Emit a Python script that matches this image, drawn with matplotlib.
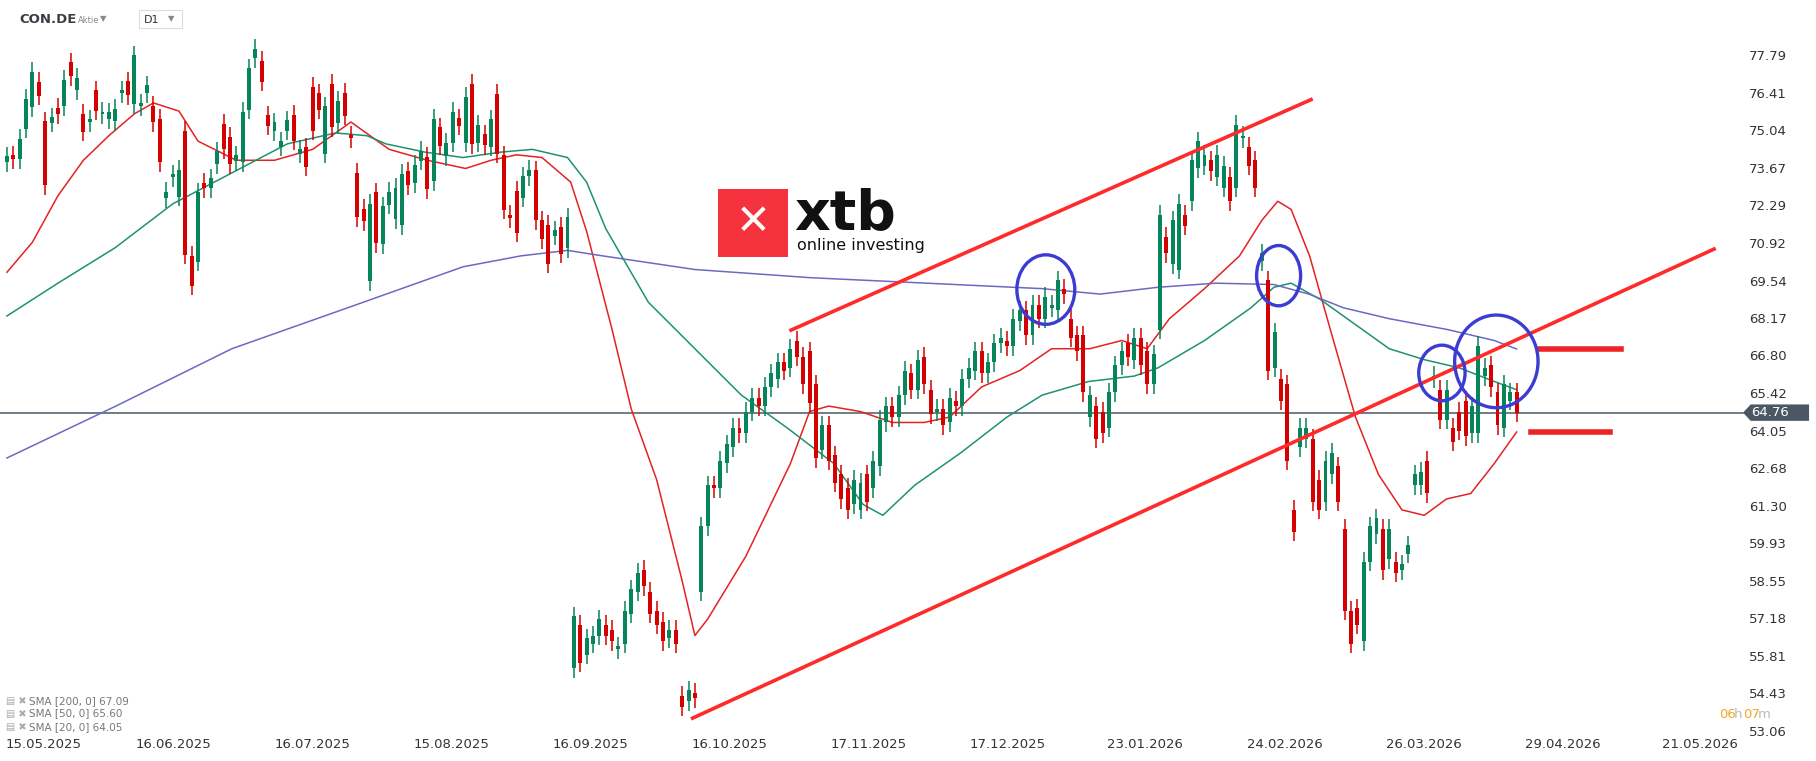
import matplotlib
matplotlib.use("Agg")
import matplotlib.pyplot as plt
from matplotlib.patches import Ellipse, Rectangle, Polygon
import numpy as np

# candles (open, close)
candles = [
    (73.93, 74.14), (74.19, 74.03), (74.03, 74.78), (75.16, 76.26), (75.95, 77.25), (76.87, 76.36),
    (75.42, 73.08), (75.37, 75.58), (75.93, 75.68), (75.98, 76.94), (77.58, 77.08), (76.56, 77.03),
    (75.71, 75.05), (75.40, 75.50), (76.56, 75.81), (75.68, 75.78), (75.50, 75.75), (75.44, 75.88),
    (76.45, 76.56), (76.90, 76.38), (76.05, 77.85), (75.98, 76.09), (76.45, 76.74), (76.00, 75.40),
    (75.52, 73.93), (72.62, 72.84), (73.37, 73.48), (72.66, 73.65), (75.09, 70.54), (70.51, 69.41),
    (70.28, 72.83), (73.18, 72.97), (72.97, 73.34), (73.86, 74.33), (75.33, 74.41), (74.86, 73.86),
    (73.96, 74.19), (73.93, 75.77), (75.85, 77.37), (77.73, 78.09), (77.65, 76.87), (75.64, 75.26),
    (75.06, 75.39), (74.50, 74.69), (75.09, 75.46), (75.67, 74.71), (74.24, 74.41), (74.48, 73.77),
    (76.69, 75.09), (76.45, 75.85), (74.24, 75.98), (76.81, 75.20), (75.35, 76.18), (76.48, 75.63),
    (74.92, 74.81), (73.55, 71.91), (72.22, 71.77), (69.58, 72.41), (72.83, 70.96), (70.93, 72.32),
    (72.38, 72.84), (71.84, 73.00), (71.63, 73.51), (73.59, 73.08), (73.17, 73.83), (73.99, 74.35),
    (74.12, 72.94), (73.23, 75.51), (75.20, 74.53), (74.14, 74.64), (74.64, 75.77), (75.54, 75.26),
    (74.64, 76.33), (76.81, 74.58), (74.64, 75.29), (74.95, 74.55), (74.50, 75.50), (76.43, 74.24),
    (74.18, 72.19), (72.00, 71.87), (72.89, 71.34), (72.63, 73.41), (73.42, 73.65), (73.63, 71.81),
    (71.81, 71.10), (71.64, 70.21), (71.23, 71.43), (71.56, 70.58), (70.78, 71.92),
    # after the gap
    (55.4, 57.3), (57.0, 55.6), (55.9, 56.5), (56.3, 56.6), (56.6, 57.2), (57.0, 56.6), (56.8, 56.4),
    (56.1, 56.2), (56.3, 57.5), (57.4, 58.3), (58.2, 58.9), (59.0, 58.4), (58.2, 57.4), (57.5, 57.0),
    (57.1, 56.4), (56.5, 56.8), (56.8, 56.3), (54.4, 54.0), (54.2, 54.6), (54.5, 54.3),
    (58.2, 60.6), (60.6, 62.1), (62.1, 62.0), (62.0, 63.0), (62.9, 63.6), (63.5, 64.2), (64.2, 64.0),
    (64.0, 64.8), (64.8, 65.3), (65.3, 65.0), (65.0, 65.7), (65.7, 66.2), (66.0, 66.6), (66.6, 66.3),
    (66.4, 67.1),
    (67.4, 66.8), (66.8, 65.8), (67.0, 65.1), (65.8, 63.1), (63.4, 64.3), (64.3, 63.0), (63.2, 62.2),
    (62.5, 61.6), (62.0, 61.2), (61.4, 62.3), (61.2, 62.2), (62.5, 61.5), (62.0, 63.0), (62.8, 64.5),
    (64.4, 65.0),
    (65.0, 64.6), (64.6, 65.4), (65.4, 66.3), (66.2, 65.6), (65.6, 66.7), (66.8, 65.8), (65.6, 64.7),
    (64.8, 64.9), (64.9, 64.3), (64.4, 65.3), (65.2, 65.0), (65.0, 66.0), (66.0, 66.4), (66.3, 67.0),
    (67.0, 66.2), (66.2, 66.6), (66.6, 67.3), (67.3, 67.5), (67.4, 67.2), (67.2, 68.2), (68.1, 68.5),
    (68.5, 67.6), (67.6, 68.7), (68.7, 68.2), (68.2, 69.0), (68.6, 68.7), (68.5, 69.6), (69.3, 69.1),
    (68.2, 67.5), (67.6, 67.0), (67.6, 65.5), (64.6, 65.4), (65.0, 63.8), (64.8, 64.0), (64.2, 65.5),
    (65.5, 66.5), (66.5, 67.0), (67.3, 66.8), (66.7, 67.5), (67.5, 66.5), (67.0, 65.8), (65.8, 66.9),
    (67.8, 72.0),
    (71.2, 70.6), (70.2, 71.8), (70.0, 72.4), (72.0, 71.6), (72.5, 74.0), (73.7, 74.7), (73.8, 74.2),
    (74.0, 73.6), (73.4, 74.2), (73.0, 73.8), (73.4, 72.5), (73.0, 75.3), (74.8, 74.9), (74.5, 73.8),
    (74.0, 73.0),
    (70.3, 70.6), (69.6, 66.3), (66.4, 67.7), (66.0, 65.2), (65.8, 63.0), (61.2, 60.4), (63.5, 64.2),
    (63.8, 64.2), (63.8, 61.5), (62.3, 61.2), (61.5, 63.0), (62.5, 63.3), (62.8, 61.5), (60.5, 57.5),
    (57.5, 56.3), (57.6, 57.0), (56.4, 59.3), (59.3, 60.6), (60.3, 60.9), (60.5, 59.0), (59.4, 60.5),
    (59.3, 58.9), (59.0, 59.2), (59.6, 59.9),
    (62.1, 62.5), (62.1, 62.6), (63.0, 61.8), (66.0, 66.1), (65.6, 64.5), (64.5, 65.6), (64.2, 63.7),
    (64.8, 64.1), (65.2, 63.9), (64.0, 65.0), (64.0, 67.2), (66.1, 66.4), (66.5, 65.7), (65.5, 64.3),
    (64.2, 65.8), (65.2, 65.5), (65.5, 64.76),
]

# moving averages sampled off the chart: (candle index, price)
sma20 = [(0, 69.9), (4, 71.0), (8, 72.7), (12, 74.0), (16, 74.9), (20, 75.7), (23, 76.1), (27, 75.8),
         (30, 74.7), (36, 74.0), (42, 74.0), (48, 74.4), (54, 75.4), (60, 74.4), (66, 74.0), (72, 73.7),
         (76, 74.0), (80, 74.2), (84, 74.1), (86.5, 73.6), (88.5, 73.2), (91, 71.4), (95, 67.8),
         (98, 64.9), (102, 62.3), (106, 58.6), (108, 56.6), (110, 57.2), (116, 59.5), (123, 62.9),
         (126, 64.8), (129, 65.0), (134, 64.8), (139, 64.4), (144, 64.4), (148, 64.6), (153, 65.7),
         (159, 66.3), (164, 67.1), (170, 67.1), (175, 67.4), (179, 67.1), (182.5, 68.2), (188, 69.3),
         (193.5, 70.5), (197, 71.8), (199.5, 72.5), (201.6, 72.2), (204.5, 70.5), (208, 67.6),
         (211.7, 64.6), (215.3, 62.5), (219, 61.2), (222.5, 61.0), (226, 61.6), (229.8, 61.8),
         (233.5, 62.9), (237, 64.05)]
sma50 = [(0, 68.3), (8, 69.5), (17, 70.8), (26, 72.4), (35, 73.5), (44, 74.6), (51.6, 75.0),
         (56.5, 74.9), (59.5, 74.6), (65.6, 74.3), (71.6, 74.1), (77.6, 74.3), (82.5, 74.4), (88, 74.1),
         (91, 73.2), (94, 71.5), (100.7, 68.8), (108, 67.1), (115.3, 65.4), (122.5, 64.2), (129.8, 62.9),
         (134.4, 61.4), (137.5, 61.0), (142.5, 62.1), (149.8, 63.3), (157, 64.6), (162.5, 65.4),
         (169.8, 65.9), (177, 66.1), (180.7, 66.4), (188, 67.4), (195.3, 68.6), (198.9, 69.35),
         (201.6, 69.5), (206.2, 68.9), (211.6, 68.0), (217, 67.1), (222.5, 66.7), (228, 66.4),
         (233.5, 65.9), (237, 65.6)]
sma200 = [(0, 63.1), (17.1, 65.0), (35.3, 67.1), (53.5, 68.6), (71.6, 70.1), (80.7, 70.5), (88, 70.7),
          (93.5, 70.5), (108, 70.0), (126.2, 69.7), (144.4, 69.5), (162.5, 69.3), (171.6, 69.1),
          (180.7, 69.35), (189.8, 69.5), (198.9, 69.45), (204.4, 69.1), (209.8, 68.6), (217, 68.2),
          (226.2, 67.8), (233.5, 67.4), (237, 67.09)]

price_ticks = [77.79, 76.41, 75.04, 73.67, 72.29, 70.92, 69.54, 68.17, 66.80, 65.42, 64.05,
               62.68, 61.30, 59.93, 58.55, 57.18, 55.81, 54.43, 53.06]
date_labels = ["15.05.2025", "16.06.2025", "16.07.2025", "15.08.2025", "16.09.2025", "16.10.2025",
               "17.11.2025", "17.12.2025", "23.01.2026", "24.02.2026", "26.03.2026", "29.04.2026",
               "21.05.2026"]
date_px = [38, 150, 270, 390, 510, 630, 750, 870, 989, 1109, 1229, 1349, 1468]
last_price = 64.76

GREEN = "#06845a"
RED = "#d50000"

# chart pixel grid (reference read at 1568 px wide)
def px_to_idx(x):
    return (x - 6) / 5.5

def py_to_price(y):
    return 77.79 - (y - 49) / 23.58

fig = plt.figure(figsize=(18.16, 7.61), dpi=100)
ax = fig.add_axes([0, 0, 1, 1])
ax.set_xlim(px_to_idx(0), px_to_idx(1568))
ax.set_ylim(py_to_price(657), py_to_price(0))
ax.axis("off")

o = np.array([c[0] for c in candles])
c = np.array([c[1] for c in candles])
x = np.arange(len(candles))
up = c >= o
col = np.where(up, GREEN, RED)
hi = np.maximum(o, c) + 0.35
lo = np.minimum(o, c) - 0.35
ax.vlines(x, lo, hi, colors=col, lw=1.1, zorder=3)
body = np.where(np.abs(c - o) < 0.08, 0.08, c - o)
ax.bar(x, body, bottom=o, width=0.62, color=col, zorder=4)

for data, color in [(sma20, "#e52222"), (sma50, "#1e9270"), (sma200, "#6a6ac0")]:
    xs, ys = zip(*data)
    ax.plot(xs, ys, color=color, lw=1.1, zorder=2)

# current price line and tag
ax.plot([px_to_idx(0), px_to_idx(1505)], [last_price] * 2, color="#4b5863", lw=1.1, zorder=1)
bx0, bx1 = px_to_idx(1505), px_to_idx(1562)
h = 0.3
ax.add_patch(Polygon([[bx0, last_price], [bx0 + 1.2, last_price + h], [bx1, last_price + h],
                      [bx1, last_price - h], [bx0 + 1.2, last_price - h]], closed=True,
                     fc="#4b5863", ec="none", zorder=6))
ax.text(px_to_idx(1512), last_price, f"{last_price:.2f}", color="white", fontsize=9.5,
        va="center", ha="left", zorder=7)

# trend lines
tl = "#ff2a2a"
ax.plot([px_to_idx(683), px_to_idx(1132)], [py_to_price(285), py_to_price(86)], color=tl, lw=2.6, zorder=5)
ax.plot([px_to_idx(598), px_to_idx(1480)], [py_to_price(620), py_to_price(215)], color=tl, lw=2.6, zorder=5)
ax.plot([px_to_idx(1330), px_to_idx(1400)], [py_to_price(301)] * 2, color="#ee2424", lw=4, zorder=5)
ax.plot([px_to_idx(1322), px_to_idx(1390)], [py_to_price(373)] * 2, color="#ee2424", lw=4, zorder=5)

for cx, cy, rx, ry in [(903, 250, 25, 30), (1104, 238, 19, 26), (1245, 322, 20, 24), (1292, 312, 36, 40)]:
    ax.add_patch(Ellipse((px_to_idx(cx), py_to_price(cy)), 2 * rx / 5.5, 2 * ry / 23.58,
                         fill=False, ec="#3c3cd2", lw=2.4, zorder=6))

for p in price_ticks:
    ax.text(px_to_idx(1510), p, f"{p:.2f}", fontsize=9.5, color="#333333", va="center", ha="left")

for lab, xp in zip(date_labels, date_px):
    ax.text(px_to_idx(xp), py_to_price(643), lab, fontsize=9.5, color="#333333", va="center", ha="center")

# header
ax.text(px_to_idx(17), py_to_price(17), "CON.DE", fontsize=9.5, fontweight="bold", color="#3a3f45", va="center")
ax.text(px_to_idx(67), py_to_price(18), "Aktie", fontsize=6, color="#888888", va="center")
ax.text(px_to_idx(86), py_to_price(16), "▼", fontsize=6, color="#888888", va="center")
ax.add_patch(Rectangle((px_to_idx(120), py_to_price(24)), 37 / 5.5, 15 / 23.58, fill=False,
                       ec="#dddddd", lw=0.8))
ax.text(px_to_idx(124), py_to_price(17), "D1", fontsize=8, color="#333333", va="center")
ax.text(px_to_idx(145), py_to_price(16), "▼", fontsize=6, color="#888888", va="center")

# legend
for yp, lab in [(605, "SMA [200, 0] 67.09"), (616, "SMA [50, 0] 65.60"), (628, "SMA [20, 0] 64.05")]:
    ax.text(px_to_idx(5), py_to_price(yp), "▤ ✖", fontsize=7, color="#aaaaaa", va="center")
    ax.text(px_to_idx(25), py_to_price(yp), lab, fontsize=7.5, color="#777777", va="center")

# countdown
ax.text(px_to_idx(1484), py_to_price(617), "06", fontsize=9.5, color="#f5a623", va="center", ha="left")
ax.text(px_to_idx(1497), py_to_price(617), "h", fontsize=9.5, color="#bbbbbb", va="center", ha="left")
ax.text(px_to_idx(1505), py_to_price(617), "07", fontsize=9.5, color="#f5a623", va="center", ha="left")
ax.text(px_to_idx(1518), py_to_price(617), "m", fontsize=9.5, color="#bbbbbb", va="center", ha="left")

# xtb logo
ax.add_patch(Rectangle((px_to_idx(620), py_to_price(222)), 60 / 5.5, 59 / 23.58, fc="#f5333f", ec="none", zorder=6))
ax.text(px_to_idx(650), py_to_price(192), "✕", fontsize=30, fontweight="bold", color="white",
        ha="center", va="center", zorder=7)
ax.text(px_to_idx(686), py_to_price(185), "xtb", fontsize=40, fontweight="bold", color="#111111",
        va="center", ha="left", zorder=7)
ax.text(px_to_idx(688), py_to_price(212), "online investing", fontsize=11.5, color="#111111",
        va="center", ha="left", zorder=7)

fig.savefig("out.png", dpi=100)
